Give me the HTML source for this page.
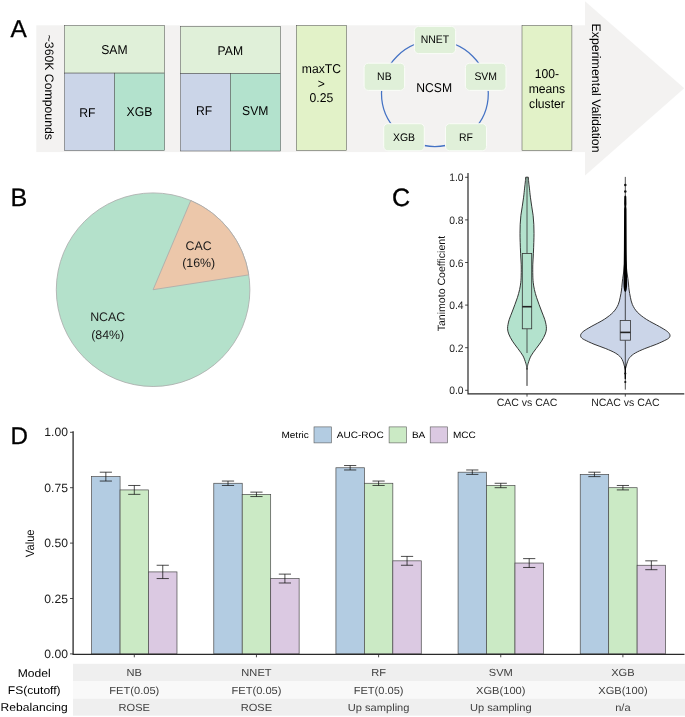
<!DOCTYPE html>
<html lang="en">
<head>
<meta charset="utf-8">
<title>Figure</title>
<style>
html,body{margin:0;padding:0;background:#fff;}
body{width:685px;height:717px;overflow:hidden;}
svg{display:block;font-family:'Liberation Sans', sans-serif;}
svg text{font-family:'Liberation Sans', sans-serif;text-rendering:geometricPrecision;}
</style>
</head>
<body>
<svg width="685" height="717" viewBox="0 0 685 717">
<rect x="0" y="0" width="685" height="717" fill="#ffffff"/>
<g id="panelA">
<rect x="36.3" y="25.3" width="549.5" height="126.8" fill="#f3f2f1"/>
<polygon points="585,1.3 684.2,88.3 585,175.4" fill="#f3f2f1"/>
<text x="10.5" y="36.6" font-size="24.4" text-anchor="start" fill="#000" stroke="#000" stroke-width="0.3">A</text>
<text x="49.3" y="87.3" font-size="12.25" text-anchor="middle" fill="#000" transform="rotate(90 49.3 87.3)" dy="4.39">~360K Compounds</text>
<text x="596.2" y="88.1" font-size="12.38" text-anchor="middle" fill="#000" transform="rotate(90 596.2 88.1)" dy="4.43">Experimental Validation</text>
<rect x="64.5" y="25.5" width="100.20" height="47.60" fill="#e0f0d9" stroke="#484848" stroke-width="0.5"/>
<rect x="64.5" y="73.1" width="50.00" height="77.40" fill="#cbd5e8" stroke="#484848" stroke-width="0.5"/>
<rect x="114.5" y="73.1" width="50.20" height="77.40" fill="#b3e2cd" stroke="#484848" stroke-width="0.5"/>
<text transform="translate(114.4 49.4) scale(1 1.05)" x="0" y="4.35" font-size="12.15" text-anchor="middle" fill="#000">SAM</text>
<text transform="translate(87.3 112.5) scale(1 1.05)" x="0" y="4.35" font-size="12.15" text-anchor="middle" fill="#000">RF</text>
<text transform="translate(139.4 111.1) scale(1 1.05)" x="0" y="4.35" font-size="12.15" text-anchor="middle" fill="#000">XGB</text>
<rect x="180.5" y="26.3" width="100.10" height="47.30" fill="#e0f0d9" stroke="#484848" stroke-width="0.5"/>
<rect x="180.5" y="73.6" width="49.90" height="77.40" fill="#cbd5e8" stroke="#484848" stroke-width="0.5"/>
<rect x="230.4" y="73.6" width="50.20" height="77.40" fill="#b3e2cd" stroke="#484848" stroke-width="0.5"/>
<text transform="translate(230.3 50.2) scale(1 1.05)" x="0" y="4.35" font-size="12.15" text-anchor="middle" fill="#000">PAM</text>
<text transform="translate(204.0 110.9) scale(1 1.05)" x="0" y="4.35" font-size="12.15" text-anchor="middle" fill="#000">RF</text>
<text transform="translate(255.2 110.9) scale(1 1.05)" x="0" y="4.35" font-size="12.15" text-anchor="middle" fill="#000">SVM</text>
<rect x="296.3" y="25.5" width="50.20" height="125.00" fill="#e2f2c8" stroke="#484848" stroke-width="0.5"/>
<text transform="translate(321.4 68.3) scale(1 1.05)" x="0" y="4.35" font-size="12.15" text-anchor="middle" fill="#000">maxTC</text>
<text transform="translate(321.4 83.05) scale(1 1.05)" x="0" y="4.35" font-size="12.15" text-anchor="middle" fill="#000">&gt;</text>
<text transform="translate(321.4 97.8) scale(1 1.05)" x="0" y="4.35" font-size="12.15" text-anchor="middle" fill="#000">0.25</text>
<rect x="522.0" y="25.5" width="49.90" height="125.00" fill="#e2f2c8" stroke="#484848" stroke-width="0.5"/>
<text transform="translate(546.95 73.8) scale(1 1.05)" x="0" y="4.35" font-size="12.15" text-anchor="middle" fill="#000">100-</text>
<text transform="translate(546.95 88.55) scale(1 1.05)" x="0" y="4.35" font-size="12.15" text-anchor="middle" fill="#000">means</text>
<text transform="translate(546.95 103.3) scale(1 1.05)" x="0" y="4.35" font-size="12.15" text-anchor="middle" fill="#000">cluster</text>
<ellipse cx="434.9" cy="93.6" rx="53.4" ry="52.9" fill="none" stroke="#4472c4" stroke-width="1.25"/>
<rect x="414.4" y="26.4" width="41.20" height="27.20" rx="4.2" ry="4.2" fill="#e0f0d9" stroke="#fafcf8" stroke-width="1"/>
<text transform="translate(435.0 39.15) scale(1 1.06)" x="0" y="3.74" font-size="10.45" text-anchor="middle" fill="#000">NNET</text>
<rect x="364.1" y="63.2" width="40.50" height="27.20" rx="4.2" ry="4.2" fill="#e0f0d9" stroke="#fafcf8" stroke-width="1"/>
<text transform="translate(384.35 76.45) scale(1 1.06)" x="0" y="3.74" font-size="10.45" text-anchor="middle" fill="#000">NB</text>
<rect x="465.4" y="63.2" width="40.60" height="27.20" rx="4.2" ry="4.2" fill="#e0f0d9" stroke="#fafcf8" stroke-width="1"/>
<text transform="translate(485.7 76.45) scale(1 1.06)" x="0" y="3.74" font-size="10.45" text-anchor="middle" fill="#000">SVM</text>
<rect x="383.7" y="123.7" width="40.60" height="27.10" rx="4.2" ry="4.2" fill="#e0f0d9" stroke="#fafcf8" stroke-width="1"/>
<text transform="translate(404.0 136.65) scale(1 1.06)" x="0" y="3.74" font-size="10.45" text-anchor="middle" fill="#000">XGB</text>
<rect x="445.5" y="123.7" width="41.00" height="27.10" rx="4.2" ry="4.2" fill="#e0f0d9" stroke="#fafcf8" stroke-width="1"/>
<text transform="translate(466.0 136.65) scale(1 1.06)" x="0" y="3.74" font-size="10.45" text-anchor="middle" fill="#000">RF</text>
<text transform="translate(434.2 87.5) scale(1 1.05)" x="0" y="4.35" font-size="12.15" text-anchor="middle" fill="#000">NCSM</text>
</g>
<g id="panelB">
<text x="10.4" y="206.4" font-size="25.1" text-anchor="start" fill="#000" stroke="#000" stroke-width="0.3">B</text>
<circle cx="153.1" cy="289.7" r="96.8" fill="#b4e1cb" stroke="#a9a9a9" stroke-width="0.8"/>
<path d="M153.1,289.7 L248.76,274.89 A96.8,96.8 0 0 0 190.77,200.53 Z" fill="#ecc7aa" stroke="#a9a9a9" stroke-width="0.8" stroke-linejoin="round"/>
<text transform="translate(198.7 245.6) scale(1 1.0)" x="0" y="4.44" font-size="12.4" text-anchor="middle" fill="#1a1a1a">CAC</text>
<text transform="translate(198.7 263.0) scale(1 1.0)" x="0" y="4.44" font-size="12.4" text-anchor="middle" fill="#1a1a1a">(16%)</text>
<text transform="translate(107.7 317.0) scale(1 1.0)" x="0" y="4.44" font-size="12.4" text-anchor="middle" fill="#1a1a1a">NCAC</text>
<text transform="translate(107.7 334.7) scale(1 1.0)" x="0" y="4.44" font-size="12.4" text-anchor="middle" fill="#1a1a1a">(84%)</text>
</g>
<g id="panelC">
<text x="391.9" y="206.2" font-size="25.1" text-anchor="start" fill="#000" stroke="#000" stroke-width="0.3">C</text>
<path d="M468.0,173.1 V393.9 H684.3" fill="none" stroke="#2a2a2a" stroke-width="1.2"/>
<line x1="465.1" x2="468.0" y1="390.30" y2="390.30" stroke="#2a2a2a" stroke-width="0.85"/>
<text transform="translate(463.6 390.4) scale(1 1.05)" x="0" y="3.71" font-size="10.35" text-anchor="end" fill="#1f1f1f">0.0</text>
<line x1="465.1" x2="468.0" y1="347.70" y2="347.70" stroke="#2a2a2a" stroke-width="0.85"/>
<text transform="translate(463.6 347.8) scale(1 1.05)" x="0" y="3.71" font-size="10.35" text-anchor="end" fill="#1f1f1f">0.2</text>
<line x1="465.1" x2="468.0" y1="305.10" y2="305.10" stroke="#2a2a2a" stroke-width="0.85"/>
<text transform="translate(463.6 305.2) scale(1 1.05)" x="0" y="3.71" font-size="10.35" text-anchor="end" fill="#1f1f1f">0.4</text>
<line x1="465.1" x2="468.0" y1="262.50" y2="262.50" stroke="#2a2a2a" stroke-width="0.85"/>
<text transform="translate(463.6 262.6) scale(1 1.05)" x="0" y="3.71" font-size="10.35" text-anchor="end" fill="#1f1f1f">0.6</text>
<line x1="465.1" x2="468.0" y1="219.90" y2="219.90" stroke="#2a2a2a" stroke-width="0.85"/>
<text transform="translate(463.6 220.0) scale(1 1.05)" x="0" y="3.71" font-size="10.35" text-anchor="end" fill="#1f1f1f">0.8</text>
<line x1="465.1" x2="468.0" y1="177.30" y2="177.30" stroke="#2a2a2a" stroke-width="0.85"/>
<text transform="translate(463.6 177.4) scale(1 1.05)" x="0" y="3.71" font-size="10.35" text-anchor="end" fill="#1f1f1f">1.0</text>
<line x1="527.0" x2="527.0" y1="393.9" y2="396.6" stroke="#2a2a2a" stroke-width="0.85"/>
<line x1="625.3" x2="625.3" y1="393.9" y2="396.6" stroke="#2a2a2a" stroke-width="0.85"/>
<text transform="translate(527.0 402.3) scale(1 1.01)" x="0" y="3.77" font-size="10.53" text-anchor="middle" fill="#1f1f1f">CAC vs CAC</text>
<text transform="translate(625.3 402.3) scale(1 1.01)" x="0" y="3.77" font-size="10.53" text-anchor="middle" fill="#1f1f1f">NCAC vs CAC</text>
<text x="441.5" y="283.6" font-size="10.55" text-anchor="middle" fill="#111" transform="rotate(-90 441.5 283.6)" dy="3.7">Tanimoto Coefficient</text>
<line x1="527" x2="527" y1="368" y2="385.9" stroke="#2b2b2b" stroke-width="1.0"/>
<path d="M528.30,177.20 C528.37,178.00 528.52,180.18 528.70,182.00 C528.88,183.82 529.12,185.57 529.40,188.10 C529.68,190.63 530.02,194.18 530.40,197.20 C530.78,200.22 531.25,203.18 531.70,206.20 C532.15,209.22 532.75,212.28 533.10,215.30 C533.45,218.32 533.65,221.28 533.80,224.30 C533.95,227.32 534.00,230.37 534.00,233.40 C534.00,236.43 533.90,239.18 533.80,242.50 C533.70,245.82 533.57,249.68 533.40,253.30 C533.23,256.92 532.90,260.57 532.80,264.20 C532.70,267.83 532.73,272.08 532.80,275.10 C532.87,278.12 532.93,279.88 533.20,282.30 C533.47,284.72 533.85,287.10 534.40,289.60 C534.95,292.10 535.72,294.80 536.50,297.30 C537.28,299.80 538.20,302.15 539.10,304.60 C540.00,307.05 540.97,309.55 541.90,312.00 C542.83,314.45 544.02,317.22 544.70,319.30 C545.38,321.38 545.72,322.92 546.00,324.50 C546.28,326.08 546.52,327.23 546.40,328.80 C546.28,330.37 546.12,331.83 545.30,333.90 C544.48,335.97 543.03,338.75 541.50,341.20 C539.97,343.65 537.85,346.15 536.10,348.60 C534.35,351.05 532.32,353.47 531.00,355.90 C529.68,358.33 528.79,361.43 528.20,363.20 C527.61,364.97 527.65,365.45 527.45,366.50 C527.25,367.55 527.08,369.00 527.00,369.50 L527.00,369.50 C526.92,369.00 526.75,367.55 526.55,366.50 C526.35,365.45 526.39,364.97 525.80,363.20 C525.21,361.43 524.32,358.33 523.00,355.90 C521.68,353.47 519.65,351.05 517.90,348.60 C516.15,346.15 514.03,343.65 512.50,341.20 C510.97,338.75 509.52,335.97 508.70,333.90 C507.88,331.83 507.72,330.37 507.60,328.80 C507.48,327.23 507.72,326.08 508.00,324.50 C508.28,322.92 508.62,321.38 509.30,319.30 C509.98,317.22 511.17,314.45 512.10,312.00 C513.03,309.55 514.00,307.05 514.90,304.60 C515.80,302.15 516.72,299.80 517.50,297.30 C518.28,294.80 519.05,292.10 519.60,289.60 C520.15,287.10 520.53,284.72 520.80,282.30 C521.07,279.88 521.13,278.12 521.20,275.10 C521.27,272.08 521.30,267.83 521.20,264.20 C521.10,260.57 520.77,256.92 520.60,253.30 C520.43,249.68 520.30,245.82 520.20,242.50 C520.10,239.18 520.00,236.43 520.00,233.40 C520.00,230.37 520.05,227.32 520.20,224.30 C520.35,221.28 520.55,218.32 520.90,215.30 C521.25,212.28 521.85,209.22 522.30,206.20 C522.75,203.18 523.22,200.22 523.60,197.20 C523.98,194.18 524.32,190.63 524.60,188.10 C524.88,185.57 525.12,183.82 525.30,182.00 C525.48,180.18 525.63,178.00 525.70,177.20 Z" fill="#b3e2cd" stroke="#2b2b2b" stroke-width="0.95" stroke-linejoin="round"/>
<line x1="527" x2="527" y1="177.3" y2="253.4" stroke="#333" stroke-width="0.8"/>
<line x1="527" x2="527" y1="328.8" y2="353.0" stroke="#333" stroke-width="0.8"/>
<rect x="522.3" y="253.5" width="9.4" height="75.3" fill="#b3e2cd" stroke="#333" stroke-width="0.8"/>
<line x1="522.3" x2="531.7" y1="306.7" y2="306.7" stroke="#222" stroke-width="1.6"/>
<path d="M625.30,258.00 C625.45,259.17 625.93,262.67 626.20,265.00 C626.47,267.33 626.62,269.72 626.90,272.00 C627.18,274.28 627.62,276.53 627.90,278.70 C628.18,280.87 628.40,283.12 628.60,285.00 C628.80,286.88 628.80,287.95 629.10,290.00 C629.40,292.05 629.85,294.87 630.40,297.30 C630.95,299.73 631.27,302.15 632.40,304.60 C633.53,307.05 634.88,309.55 637.20,312.00 C639.52,314.45 642.58,316.87 646.30,319.30 C650.02,321.73 656.10,324.65 659.50,326.60 C662.90,328.55 665.07,329.83 666.70,331.00 C668.33,332.17 668.75,332.82 669.30,333.60 C669.85,334.38 670.03,335.00 670.00,335.70 C669.97,336.40 669.75,337.12 669.10,337.80 C668.45,338.48 668.18,338.73 666.10,339.80 C664.02,340.87 660.15,342.73 656.60,344.20 C653.05,345.67 648.35,347.13 644.80,348.60 C641.25,350.07 637.78,351.55 635.30,353.00 C632.82,354.45 631.20,355.85 629.90,357.30 C628.60,358.75 628.12,360.23 627.50,361.70 C626.88,363.17 626.57,364.80 626.20,366.10 C625.83,367.40 625.45,368.93 625.30,369.50 L625.30,369.50 C625.15,368.93 624.77,367.40 624.40,366.10 C624.03,364.80 623.72,363.17 623.10,361.70 C622.48,360.23 622.00,358.75 620.70,357.30 C619.40,355.85 617.78,354.45 615.30,353.00 C612.82,351.55 609.35,350.07 605.80,348.60 C602.25,347.13 597.55,345.67 594.00,344.20 C590.45,342.73 586.58,340.87 584.50,339.80 C582.42,338.73 582.15,338.48 581.50,337.80 C580.85,337.12 580.63,336.40 580.60,335.70 C580.57,335.00 580.75,334.38 581.30,333.60 C581.85,332.82 582.27,332.17 583.90,331.00 C585.53,329.83 587.70,328.55 591.10,326.60 C594.50,324.65 600.58,321.73 604.30,319.30 C608.02,316.87 611.08,314.45 613.40,312.00 C615.72,309.55 617.07,307.05 618.20,304.60 C619.33,302.15 619.65,299.73 620.20,297.30 C620.75,294.87 621.20,292.05 621.50,290.00 C621.80,287.95 621.80,286.88 622.00,285.00 C622.20,283.12 622.42,280.87 622.70,278.70 C622.98,276.53 623.42,274.28 623.70,272.00 C623.98,269.72 624.13,267.33 624.40,265.00 C624.67,262.67 625.15,259.17 625.30,258.00 Z" fill="#cbd5e8" stroke="#2b2b2b" stroke-width="0.95" stroke-linejoin="round"/>
<line x1="625.3" x2="625.3" y1="176.9" y2="320.5" stroke="#222" stroke-width="0.8"/>
<line x1="625.3" x2="625.3" y1="340.2" y2="389.6" stroke="#222" stroke-width="0.8"/>
<circle cx="625.3" cy="184.9" r="1.25" fill="#111"/>
<circle cx="625.3" cy="191.4" r="1.25" fill="#111"/>
<path d="M624.30,196.5 L624.15,204 L624.40,206.5 L624.10,209 L623.90,250 L623.50,284 Q623.50,291 625.3,292 Q627.10,291 627.10,284 L626.70,250 L626.50,209 L626.20,206.5 L626.45,204 L626.30,196.5 Q625.3,194.6 624.30,196.5 Z" fill="#000"/>
<line x1="625.3" x2="625.3" y1="367" y2="378.5" stroke="#000" stroke-width="1.3" stroke-linecap="round"/>
<circle cx="625.3" cy="373.5" r="1.1" fill="#111"/>
<circle cx="625.3" cy="382.0" r="1.1" fill="#111"/>
<rect x="620.2" y="320.5" width="10.2" height="19.7" fill="#cbd5e8" stroke="#333" stroke-width="0.8"/>
<line x1="620.2" x2="630.4" y1="332.4" y2="332.4" stroke="#222" stroke-width="1.6"/>
</g>
<g id="panelD">
<text x="10.6" y="443.6" font-size="24.2" text-anchor="start" fill="#000" stroke="#000" stroke-width="0.3">D</text>
<rect x="73" y="663.8" width="612" height="17.2" fill="#efefef"/>
<rect x="73" y="681.0" width="612" height="17.7" fill="#f9f9f9"/>
<rect x="73" y="698.7" width="612" height="17.0" fill="#efefef"/>
<text transform="translate(34.2 672.5) scale(1 0.93)" x="0" y="4.33" font-size="12.1" text-anchor="middle" fill="#000">Model</text>
<text transform="translate(134.3 672.5) scale(1 0.93)" x="0" y="3.97" font-size="11.1" text-anchor="middle" fill="#404040">NB</text>
<text transform="translate(256.45 672.5) scale(1 0.93)" x="0" y="3.97" font-size="11.1" text-anchor="middle" fill="#404040">NNET</text>
<text transform="translate(378.6 672.5) scale(1 0.93)" x="0" y="3.97" font-size="11.1" text-anchor="middle" fill="#404040">RF</text>
<text transform="translate(500.75 672.5) scale(1 0.93)" x="0" y="3.97" font-size="11.1" text-anchor="middle" fill="#404040">SVM</text>
<text transform="translate(622.9 672.5) scale(1 0.93)" x="0" y="3.97" font-size="11.1" text-anchor="middle" fill="#404040">XGB</text>
<text transform="translate(34.2 690.0) scale(1 0.93)" x="0" y="4.33" font-size="12.1" text-anchor="middle" fill="#000">FS(cutoff)</text>
<text transform="translate(134.3 690.0) scale(1 0.93)" x="0" y="3.97" font-size="11.1" text-anchor="middle" fill="#404040">FET(0.05)</text>
<text transform="translate(256.45 690.0) scale(1 0.93)" x="0" y="3.97" font-size="11.1" text-anchor="middle" fill="#404040">FET(0.05)</text>
<text transform="translate(378.6 690.0) scale(1 0.93)" x="0" y="3.97" font-size="11.1" text-anchor="middle" fill="#404040">FET(0.05)</text>
<text transform="translate(500.75 690.0) scale(1 0.93)" x="0" y="3.97" font-size="11.1" text-anchor="middle" fill="#404040">XGB(100)</text>
<text transform="translate(622.9 690.0) scale(1 0.93)" x="0" y="3.97" font-size="11.1" text-anchor="middle" fill="#404040">XGB(100)</text>
<text transform="translate(34.2 707.2) scale(1 0.93)" x="0" y="4.33" font-size="12.1" text-anchor="middle" fill="#000">Rebalancing</text>
<text transform="translate(134.3 707.2) scale(1 0.93)" x="0" y="3.97" font-size="11.1" text-anchor="middle" fill="#404040">ROSE</text>
<text transform="translate(256.45 707.2) scale(1 0.93)" x="0" y="3.97" font-size="11.1" text-anchor="middle" fill="#404040">ROSE</text>
<text transform="translate(378.6 707.2) scale(1 0.93)" x="0" y="3.97" font-size="11.1" text-anchor="middle" fill="#404040">Up sampling</text>
<text transform="translate(500.75 707.2) scale(1 0.93)" x="0" y="3.97" font-size="11.1" text-anchor="middle" fill="#404040">Up sampling</text>
<text transform="translate(622.9 707.2) scale(1 0.93)" x="0" y="3.97" font-size="11.1" text-anchor="middle" fill="#404040">n/a</text>
<rect x="91.63" y="476.62" width="28.45" height="177.28" fill="#b3cce2" stroke="#4a4a4a" stroke-width="0.7"/>
<rect x="120.08" y="489.92" width="28.45" height="163.98" fill="#cbeac5" stroke="#4a4a4a" stroke-width="0.7"/>
<rect x="148.53" y="571.91" width="28.45" height="81.99" fill="#dbc9e2" stroke="#4a4a4a" stroke-width="0.7"/>
<path d="M99.75,472.19 H111.95 M99.75,481.05 H111.95 M105.85,472.19 V481.05" fill="none" stroke="#111" stroke-width="0.75"/>
<path d="M128.20,485.48 H140.40 M128.20,494.35 H140.40 M134.30,485.48 V494.35" fill="none" stroke="#111" stroke-width="0.75"/>
<path d="M156.65,565.26 H168.85 M156.65,578.56 H168.85 M162.75,565.26 V578.56" fill="none" stroke="#111" stroke-width="0.75"/>
<rect x="213.78" y="483.27" width="28.45" height="170.63" fill="#b3cce2" stroke="#4a4a4a" stroke-width="0.7"/>
<rect x="242.23" y="494.35" width="28.45" height="159.55" fill="#cbeac5" stroke="#4a4a4a" stroke-width="0.7"/>
<rect x="270.68" y="578.56" width="28.45" height="75.34" fill="#dbc9e2" stroke="#4a4a4a" stroke-width="0.7"/>
<path d="M221.90,481.05 H234.10 M221.90,485.48 H234.10 M228.00,481.05 V485.48" fill="none" stroke="#111" stroke-width="0.75"/>
<path d="M250.35,492.13 H262.55 M250.35,496.56 H262.55 M256.45,492.13 V496.56" fill="none" stroke="#111" stroke-width="0.75"/>
<path d="M278.80,574.12 H291.00 M278.80,582.99 H291.00 M284.90,574.12 V582.99" fill="none" stroke="#111" stroke-width="0.75"/>
<rect x="335.93" y="467.76" width="28.45" height="186.14" fill="#b3cce2" stroke="#4a4a4a" stroke-width="0.7"/>
<rect x="364.38" y="483.27" width="28.45" height="170.63" fill="#cbeac5" stroke="#4a4a4a" stroke-width="0.7"/>
<rect x="392.82" y="560.83" width="28.45" height="93.07" fill="#dbc9e2" stroke="#4a4a4a" stroke-width="0.7"/>
<path d="M344.05,465.54 H356.25 M344.05,469.97 H356.25 M350.15,465.54 V469.97" fill="none" stroke="#111" stroke-width="0.75"/>
<path d="M372.50,481.05 H384.70 M372.50,485.48 H384.70 M378.60,481.05 V485.48" fill="none" stroke="#111" stroke-width="0.75"/>
<path d="M400.95,556.40 H413.15 M400.95,565.26 H413.15 M407.05,556.40 V565.26" fill="none" stroke="#111" stroke-width="0.75"/>
<rect x="458.08" y="472.19" width="28.45" height="181.71" fill="#b3cce2" stroke="#4a4a4a" stroke-width="0.7"/>
<rect x="486.53" y="485.48" width="28.45" height="168.42" fill="#cbeac5" stroke="#4a4a4a" stroke-width="0.7"/>
<rect x="514.98" y="563.04" width="28.45" height="90.86" fill="#dbc9e2" stroke="#4a4a4a" stroke-width="0.7"/>
<path d="M466.20,469.97 H478.40 M466.20,474.40 H478.40 M472.30,469.97 V474.40" fill="none" stroke="#111" stroke-width="0.75"/>
<path d="M494.65,483.27 H506.85 M494.65,487.70 H506.85 M500.75,483.27 V487.70" fill="none" stroke="#111" stroke-width="0.75"/>
<path d="M523.10,558.61 H535.30 M523.10,567.48 H535.30 M529.20,558.61 V567.48" fill="none" stroke="#111" stroke-width="0.75"/>
<rect x="580.23" y="474.40" width="28.45" height="179.50" fill="#b3cce2" stroke="#4a4a4a" stroke-width="0.7"/>
<rect x="608.68" y="487.70" width="28.45" height="166.20" fill="#cbeac5" stroke="#4a4a4a" stroke-width="0.7"/>
<rect x="637.13" y="565.26" width="28.45" height="88.64" fill="#dbc9e2" stroke="#4a4a4a" stroke-width="0.7"/>
<path d="M588.35,472.19 H600.55 M588.35,476.62 H600.55 M594.45,472.19 V476.62" fill="none" stroke="#111" stroke-width="0.75"/>
<path d="M616.80,485.48 H629.00 M616.80,489.92 H629.00 M622.90,485.48 V489.92" fill="none" stroke="#111" stroke-width="0.75"/>
<path d="M645.25,560.83 H657.45 M645.25,569.69 H657.45 M651.35,560.83 V569.69" fill="none" stroke="#111" stroke-width="0.75"/>
<path d="M73.1,431.2 V654.3 H684.5" fill="none" stroke="#2a2a2a" stroke-width="1.3"/>
<line x1="70" x2="73.1" y1="653.90" y2="653.90" stroke="#2a2a2a" stroke-width="0.85"/>
<text transform="translate(67.9 653.6) scale(1 0.99)" x="0" y="4.35" font-size="12.15" text-anchor="end" fill="#1a1a1a">0.00</text>
<line x1="70" x2="73.1" y1="598.50" y2="598.50" stroke="#2a2a2a" stroke-width="0.85"/>
<text transform="translate(67.9 598.2) scale(1 0.99)" x="0" y="4.35" font-size="12.15" text-anchor="end" fill="#1a1a1a">0.25</text>
<line x1="70" x2="73.1" y1="543.10" y2="543.10" stroke="#2a2a2a" stroke-width="0.85"/>
<text transform="translate(67.9 542.8) scale(1 0.99)" x="0" y="4.35" font-size="12.15" text-anchor="end" fill="#1a1a1a">0.50</text>
<line x1="70" x2="73.1" y1="487.70" y2="487.70" stroke="#2a2a2a" stroke-width="0.85"/>
<text transform="translate(67.9 487.4) scale(1 0.99)" x="0" y="4.35" font-size="12.15" text-anchor="end" fill="#1a1a1a">0.75</text>
<line x1="70" x2="73.1" y1="432.30" y2="432.30" stroke="#2a2a2a" stroke-width="0.85"/>
<text transform="translate(67.9 432.0) scale(1 0.99)" x="0" y="4.35" font-size="12.15" text-anchor="end" fill="#1a1a1a">1.00</text>
<line x1="134.30" x2="134.30" y1="654.3" y2="657.3" stroke="#2a2a2a" stroke-width="0.85"/>
<line x1="256.45" x2="256.45" y1="654.3" y2="657.3" stroke="#2a2a2a" stroke-width="0.85"/>
<line x1="378.60" x2="378.60" y1="654.3" y2="657.3" stroke="#2a2a2a" stroke-width="0.85"/>
<line x1="500.75" x2="500.75" y1="654.3" y2="657.3" stroke="#2a2a2a" stroke-width="0.85"/>
<line x1="622.90" x2="622.90" y1="654.3" y2="657.3" stroke="#2a2a2a" stroke-width="0.85"/>
<text transform="translate(29.5 543.3) scale(1 0.93) rotate(-90)" x="0" y="4.3" font-size="12.0" text-anchor="middle" fill="#111">Value</text>
<text transform="translate(281.4 434.8) scale(1 0.92)" x="0" y="3.6" font-size="10.05" text-anchor="start" fill="#000">Metric</text>
<rect x="314.0" y="426.9" width="17.4" height="16" fill="#b3cce2" stroke="#5a5a5a" stroke-width="0.6"/>
<text transform="translate(336.8 434.8) scale(1 0.92)" x="0" y="3.6" font-size="10.05" text-anchor="start" fill="#000">AUC-ROC</text>
<rect x="389.1" y="426.9" width="17.4" height="16" fill="#cbeac5" stroke="#5a5a5a" stroke-width="0.6"/>
<text transform="translate(411.9 434.8) scale(1 0.92)" x="0" y="3.6" font-size="10.05" text-anchor="start" fill="#000">BA</text>
<rect x="430.2" y="426.9" width="17.4" height="16" fill="#dbc9e2" stroke="#5a5a5a" stroke-width="0.6"/>
<text transform="translate(453.0 434.8) scale(1 0.92)" x="0" y="3.6" font-size="10.05" text-anchor="start" fill="#000">MCC</text>
</g>
</svg>
</body>
</html>
